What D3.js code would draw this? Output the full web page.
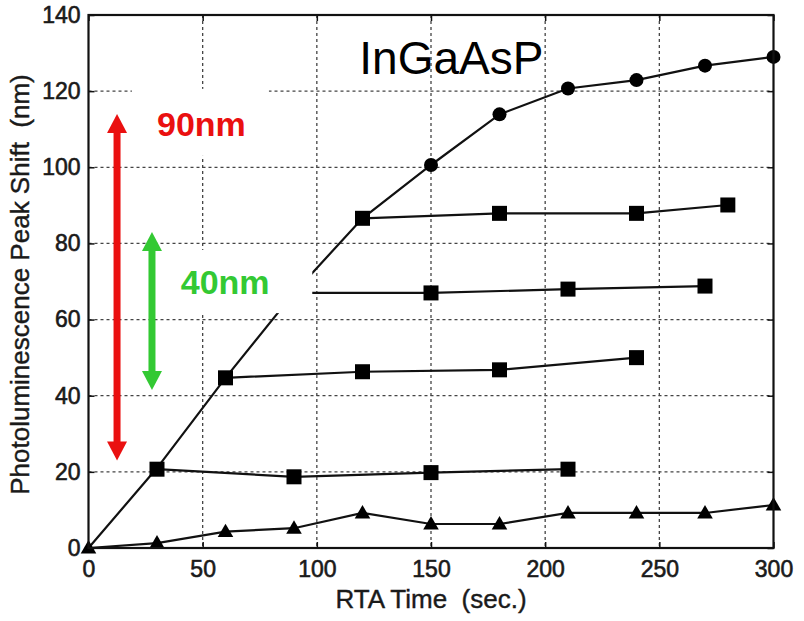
<!DOCTYPE html>
<html>
<head>
<meta charset="utf-8">
<script src="https://cdn.jsdelivr.net/npm/d3@7"></script>
<style>
  body { margin: 0; background: #fff; }
  text { font-family: "Liberation Sans", Arial, Helvetica, sans-serif; }
</style>
</head>
<body>
<script>
// RTA time steps and the shift
var rtaTimes    = [0, 30, 60, 90, 120, 150, 180, 210, 240, 270, 300];
var mainShift   = [0, 21, 44.7, 67, 86.6, 100.6, 113.9, 120.7, 122.9, 126.7, 129];
var triShift    = [0, 1.3, 4.3, 5.2, 9.2, 6.3, 6.3, 9.2, 9.2, 9.2, 11.3];

var branchA_t = [120, 180, 240, 280], branchA_v = [86.6, 87.9, 87.9, 90.1];
var branchB_t = [90, 150, 210, 270],  branchB_v = [67, 67, 68, 68.8];
var branchC_t = [60, 120, 180, 240],  branchC_v = [44.7, 46.3, 46.8, 50];
var branchD_t = [30, 90, 150, 210],   branchD_v = [20.7, 18.7, 19.8, 20.7];

var xTicks = [0, 50, 100, 150, 200, 250, 300];
var yTicks = [0, 20, 40, 60, 80, 100, 120, 140];

var
  svg,

  listen = function listen(event, elem, fn) {
    if (elem.addEventListener) {
      return elem.addEventListener(event, fn, false);
    }
    return elem.attachEvent('on' + event, fn);
  },

  config = {
    w      : 804,
    h      : 621,
    left   : 88.5,
    right  : 773.5,
    top    : 15,
    bottom : 548
  },

  x = d3.scaleLinear().domain([0, 300]).range([config.left, config.right]),
  y = d3.scaleLinear().domain([0, 140]).range([config.bottom, config.top]),

  zip = function zip(ts, vs) {
    return ts.map(function (t, i) { return {t: t, v: vs[i]}; });
  },

  line = d3.line().x(function (d) { return x(d.t); }).y(function (d) { return y(d.v); }),

  drawGrid = function drawGrid(g) {
    g.selectAll('line.gx').data(xTicks.slice(1, -1)).enter().append('line')
      .attr('x1', function (d) { return x(d); }).attr('x2', function (d) { return x(d); })
      .attr('y1', config.top).attr('y2', config.bottom);
    g.selectAll('line.gy').data(yTicks.slice(1, -1)).enter().append('line')
      .attr('y1', function (d) { return y(d); }).attr('y2', function (d) { return y(d); })
      .attr('x1', config.left).attr('x2', config.right);
    g.selectAll('line').attr('stroke', '#444').attr('stroke-width', 1.3)
      .attr('stroke-dasharray', '3,3');
  },

  whiteBox = function whiteBox(g, x0, x1, y0, y1) {
    g.append('rect')
      .attr('x', x(x0)).attr('y', y(y0))
      .attr('width', x(x1) - x(x0)).attr('height', y(y1) - y(y0))
      .attr('fill', '#fff');
  },

  drawArrow = function drawArrow(g, t, v0, v1, color) {
    var cx = x(t), top = y(v1), bot = y(v0), hw = 10, hh = 19;
    g.append('line').attr('x1', cx).attr('x2', cx)
      .attr('y1', top + hh - 2).attr('y2', bot - hh + 2)
      .attr('stroke', color).attr('stroke-width', 7);
    g.append('path').attr('fill', color)
      .attr('d', 'M' + cx + ',' + top + 'L' + (cx + hw) + ',' + (top + hh) + 'L' + (cx - hw) + ',' + (top + hh) + 'Z');
    g.append('path').attr('fill', color)
      .attr('d', 'M' + cx + ',' + bot + 'L' + (cx + hw) + ',' + (bot - hh) + 'L' + (cx - hw) + ',' + (bot - hh) + 'Z');
  },

  drawChart = function drawChart() {
    svg = d3.select('body').append('svg').attr('width', config.w).attr('height', config.h);

    var gridG = svg.append('g');
    drawGrid(gridG);
    whiteBox(svg, 19, 79, 120.6, 103);

    var mainData = zip(rtaTimes, mainShift),
      triData = zip(rtaTimes, triShift),
      branches = [zip(branchA_t, branchA_v), zip(branchB_t, branchB_v),
                  zip(branchC_t, branchC_v), zip(branchD_t, branchD_v)],
      branchStarts = [branchA_t[0], branchB_t[0], branchC_t[0], branchD_t[0]];

    var dataG = svg.append('g');
    [mainData, triData].concat(branches).forEach(function (d) {
      dataG.append('path').datum(d).attr('d', line)
        .attr('fill', 'none').attr('stroke', '#111').attr('stroke-width', 2.2);
    });

    dataG.selectAll('circle').data(mainData.filter(function (d) {
      return d.t > 0 && branchStarts.indexOf(d.t) < 0;
    })).enter().append('circle')
      .attr('cx', function (d) { return x(d.t); }).attr('cy', function (d) { return y(d.v); })
      .attr('r', 7).attr('fill', '#000');

    var allSquares = [].concat.apply([], branches);
    dataG.selectAll('rect.sq').data(allSquares).enter().append('rect')
      .attr('x', function (d) { return x(d.t) - 7.5; }).attr('y', function (d) { return y(d.v) - 7.5; })
      .attr('width', 15).attr('height', 15).attr('fill', '#000');

    var tri = d3.symbol().type(d3.symbolTriangle).size(105);
    dataG.selectAll('path.tri').data(triData).enter().append('path')
      .attr('d', tri)
      .attr('transform', function (d) { return 'translate(' + x(d.t) + ',' + (y(d.v) + 1) + ')'; })
      .attr('fill', '#000');

    // white patch behind the 40nm label covers the curve there
    whiteBox(svg, 33.5, 98, 78.3, 61.7);

    // axes: ticks inside on all four sides
    var fontSize = 23;
    var ax = svg.append('g').attr('transform', 'translate(0,' + config.bottom + ')')
      .call(d3.axisBottom(x).tickValues(xTicks).tickSize(-6).tickPadding(13));
    var ay = svg.append('g').attr('transform', 'translate(' + config.left + ',0)')
      .call(d3.axisLeft(y).tickValues(yTicks).tickSize(-6).tickPadding(8));
    svg.append('g').attr('transform', 'translate(0,' + config.top + ')')
      .call(d3.axisTop(x).tickValues(xTicks).tickSize(-6).tickFormat(''));
    svg.append('g').attr('transform', 'translate(' + config.right + ',0)')
      .call(d3.axisRight(y).tickValues(yTicks).tickSize(-6).tickFormat(''));
    svg.selectAll('.domain').remove();
    svg.selectAll('.tick line').attr('stroke', '#111').attr('stroke-width', 1.5);
    [ax, ay].forEach(function (a) {
      a.selectAll('text').attr('font-size', fontSize).attr('fill', '#1a1a1a')
        .attr('stroke', '#1a1a1a').attr('stroke-width', 0.6)
        .style('font-family', '"Liberation Sans", Arial, sans-serif');
    });

    svg.append('rect')
      .attr('x', config.left).attr('y', config.top)
      .attr('width', config.right - config.left).attr('height', config.bottom - config.top)
      .attr('fill', 'none').attr('stroke', '#111').attr('stroke-width', 2.2);

    svg.append('text')
      .attr('x', 431).attr('y', 608)
      .attr('text-anchor', 'middle').attr('font-size', 26).attr('fill', '#1a1a1a')
      .attr('stroke', '#1a1a1a').attr('stroke-width', 0.4)
      .attr('xml:space', 'preserve')
      .text('RTA Time  (sec.)');

    svg.append('text')
      .attr('transform', 'translate(29,' + ((config.top + config.bottom) / 2 + 3) + ') rotate(-90)')
      .attr('text-anchor', 'middle').attr('font-size', 26).attr('fill', '#1a1a1a')
      .attr('stroke', '#1a1a1a').attr('stroke-width', 0.4)
      .attr('xml:space', 'preserve')
      .text('Photoluminescence Peak Shift  (nm)');

    // annotations
    drawArrow(svg, 12.5, 23, 114, '#ea1010');
    drawArrow(svg, 27.8, 41.5, 83, '#33c933');

    svg.append('text').attr('x', x(30)).attr('y', y(108.2))
      .attr('font-size', 34).attr('font-weight', 'bold').attr('fill', '#ea1010').text('90nm');
    svg.append('text').attr('x', x(40.4)).attr('y', y(66.7))
      .attr('font-size', 34).attr('font-weight', 'bold').attr('fill', '#33c933').text('40nm');
    svg.append('text').attr('x', x(118.6)).attr('y', y(124.4))
      .attr('font-size', 46).attr('fill', '#000').text('InGaAsP');
  },

  init = function init() {
    drawChart();
  };

listen('load', window, init);
</script>
</body>
</html>
